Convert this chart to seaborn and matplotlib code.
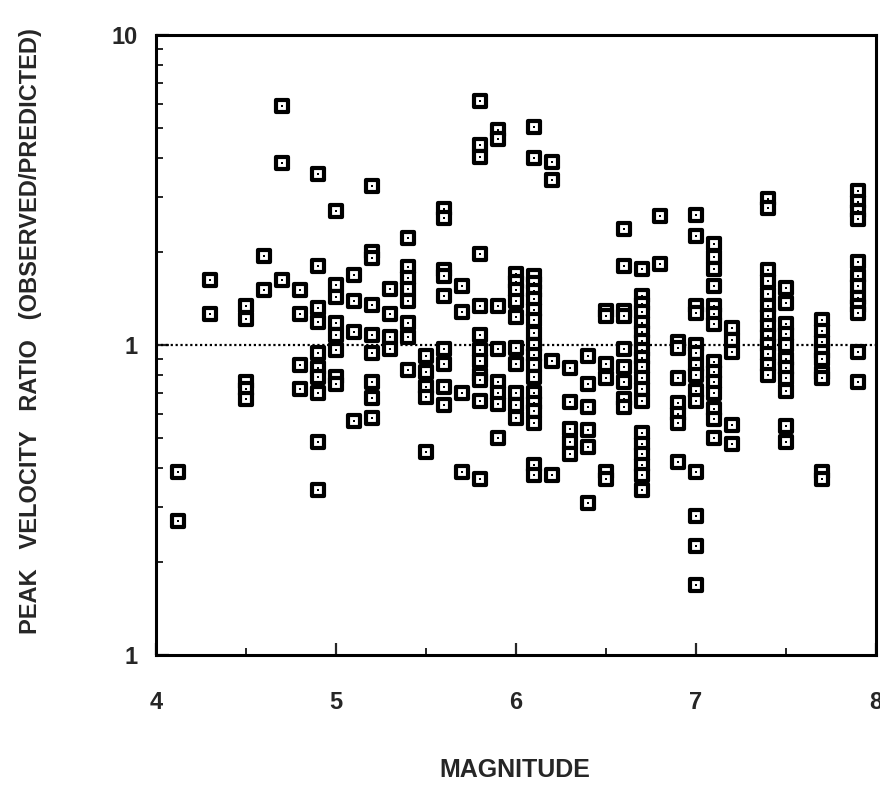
import matplotlib
matplotlib.use("Agg")
import matplotlib.pyplot as plt
from matplotlib.ticker import FixedLocator, LogLocator, NullFormatter, FixedFormatter
import seaborn as sns
import pandas as pd

# Earthquake magnitude of each group of recordings
magnitudes = [4.12, 4.3, 4.5, 4.6, 4.7, 4.8, 4.9, 5.0, 5.1, 5.2, 5.3, 5.4, 5.5, 5.6,
              5.7, 5.8, 5.9, 6.0, 6.1, 6.2, 6.3, 6.4, 6.5, 6.6, 6.7, 6.8, 6.9, 7.0,
              7.1, 7.2, 7.4, 7.5, 7.7, 7.9]

# Observed / predicted peak velocity ratios for each magnitude above
ratios = [
    [0.39, 0.27],
    [1.62, 1.26],
    [1.34, 1.21, 0.76, 0.72, 0.67],
    [1.93, 1.50],
    [5.9, 3.85, 1.62],
    [1.50, 1.26, 0.86, 0.72],
    [3.55, 1.80, 1.32, 1.19, 0.94, 0.84, 0.79, 0.70, 0.485, 0.34],
    [2.7, 1.56, 1.43, 1.18, 1.08, 0.96, 0.79, 0.75],
    [1.68, 1.39, 1.10, 0.57],
    [3.25, 2.0, 1.9, 1.35, 1.08, 0.94, 0.76, 0.675, 0.58],
    [1.52, 1.26, 1.06, 0.97],
    [2.22, 1.79, 1.64, 1.52, 1.39, 1.18, 1.06, 0.83],
    [0.92, 0.82, 0.73, 0.68, 0.45],
    [2.75, 2.56, 1.75, 1.67, 1.44, 0.97, 0.87, 0.73, 0.64],
    [1.55, 1.28, 0.70, 0.39],
    [6.1, 4.4, 4.03, 1.97, 1.34, 1.08, 0.96, 0.89, 0.80, 0.77, 0.66, 0.37],
    [4.95, 4.6, 1.34, 0.97, 0.76, 0.70, 0.645, 0.50],
    [1.69, 1.59, 1.50, 1.39, 1.23, 0.98, 0.87, 0.70, 0.64, 0.58],
    [5.05, 4.0, 1.67, 1.58, 1.49, 1.41, 1.30, 1.20, 1.09, 1.0, 0.93, 0.86, 0.79,
     0.70, 0.65, 0.61, 0.56, 0.41, 0.38],
    [3.9, 3.4, 0.89, 0.38],
    [0.84, 0.656, 0.536, 0.485, 0.445],
    [0.92, 0.75, 0.63, 0.53, 0.47, 0.31],
    [1.29, 1.24, 0.87, 0.78, 0.39, 0.37],
    [2.37, 1.80, 1.29, 1.24, 0.97, 0.85, 0.76, 0.67, 0.63],
    [1.76, 1.44, 1.36, 1.28, 1.18, 1.10, 1.03, 0.96, 0.91, 0.85, 0.78, 0.72, 0.66,
     0.52, 0.48, 0.445, 0.41, 0.38, 0.34],
    [2.6, 1.82],
    [1.02, 0.98, 0.78, 0.65, 0.60, 0.56, 0.42],
    [2.62, 2.25, 1.34, 1.27, 1.0, 0.94, 0.86, 0.80, 0.71, 0.66, 0.39, 0.28, 0.225, 0.168],
    [2.12, 1.92, 1.76, 1.55, 1.34, 1.26, 1.17, 0.88, 0.82, 0.76, 0.70, 0.62, 0.577, 0.50],
    [1.13, 1.04, 0.95, 0.55, 0.48],
    [2.95, 2.76, 1.74, 1.61, 1.46, 1.34, 1.24, 1.15, 1.07, 1.0, 0.935, 0.86, 0.80],
    [1.53, 1.37, 1.17, 1.085, 1.0, 0.90, 0.84, 0.78, 0.71, 0.549, 0.485],
    [1.20, 1.11, 1.02, 0.95, 0.90, 0.81, 0.78, 0.39, 0.37],
    [3.14, 2.88, 2.71, 2.55, 1.85, 1.67, 1.55, 1.42, 1.34, 1.27, 0.947, 0.76],
]

y_tick_values = [0.1, 1, 10]
y_tick_labels = ["1", "1", "10"]
x_tick_values = [4, 5, 6, 7, 8]
x_tick_labels = ["4", "5", "6", "7", "8"]

rows = [(m, r) for m, col in zip(magnitudes, ratios) for r in col]
df = pd.DataFrame(rows, columns=["magnitude", "ratio"])

sns.set_style("white")
plt.rcParams["font.family"] = ["Liberation Sans", "DejaVu Sans"]
plt.rcParams["font.weight"] = "bold"

fig = plt.figure(figsize=(8.8, 7.85), dpi=100)
ax = fig.add_axes([0.1773, 0.1656, 0.818, 0.79])

# reference line at a ratio of one
ax.axhline(1.0, color="black", linestyle=(0, (1, 1.2)), linewidth=1.6, zorder=1)

# hollow square symbols with a small centre dot
sns.scatterplot(data=df, x="magnitude", y="ratio", ax=ax, marker="s", s=66,
                facecolor="white", edgecolor="black", linewidth=3.0, zorder=3,
                legend=False)
sns.scatterplot(data=df, x="magnitude", y="ratio", ax=ax, marker="s", s=3.5,
                color="black", linewidth=0, zorder=4, legend=False)

ax.set_yscale("log")
ax.set_xlim(4, 8)
ax.set_ylim(0.1, 10)

ax.yaxis.set_major_locator(FixedLocator(y_tick_values))
ax.yaxis.set_major_formatter(FixedFormatter(y_tick_labels))
ax.yaxis.set_minor_locator(LogLocator(base=10, subs=range(2, 10)))
ax.yaxis.set_minor_formatter(NullFormatter())
ax.xaxis.set_major_locator(FixedLocator(x_tick_values))
ax.xaxis.set_major_formatter(FixedFormatter(x_tick_labels))
ax.xaxis.set_minor_locator(FixedLocator([4.5, 5.5, 6.5, 7.5]))

ax.tick_params(axis="both", which="major", direction="in", length=9, width=1.6,
               labelsize=17, bottom=True, left=True)
ax.tick_params(axis="x", which="major", pad=26)
ax.tick_params(axis="y", which="major", pad=13)
ax.tick_params(axis="both", which="minor", direction="in", length=5, width=1.4,
               bottom=True, left=True)
for lab in ax.get_xticklabels() + ax.get_yticklabels():
    lab.set_fontweight("bold")

for side in ["left", "right", "top", "bottom"]:
    ax.spines[side].set_visible(True)
    ax.spines[side].set_color("black")
    ax.spines[side].set_linewidth(2.2)

ax.set_xlabel("MAGNITUDE", fontsize=18, fontweight="bold", va="center")
ax.xaxis.set_label_coords(0.4986, -0.1855)
ax.set_ylabel("PEAK   VELOCITY   RATIO   (OBSERVED/PREDICTED)", fontsize=17,
              fontweight="bold", va="center")
ax.yaxis.set_label_coords(-0.175, 0.5226)

fig.savefig("out.png", dpi=100)
